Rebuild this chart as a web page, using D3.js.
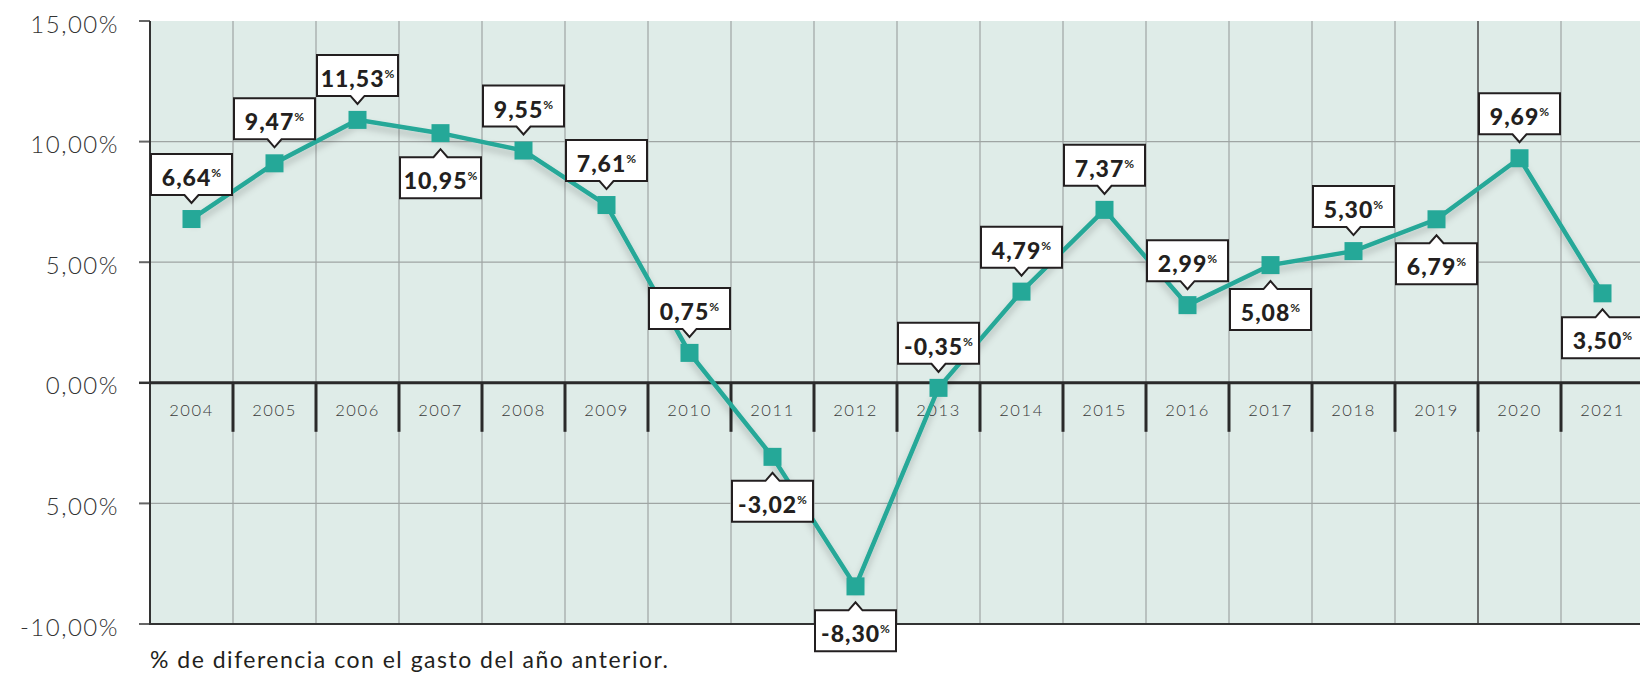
<!DOCTYPE html>
<html>
<head>
<meta charset="utf-8">
<script src="https://cdn.jsdelivr.net/npm/d3@7"></script>
<style>
  html, body { margin: 0; padding: 0; background: #ffffff; }
  svg { display: block; }
</style>
</head>
<body>
<svg id="chart" width="1640" height="675"></svg>
<script>
// ---- data ----
const years = ["2004","2005","2006","2007","2008","2009","2010","2011","2012","2013","2014","2015","2016","2017","2018","2019","2020","2021"];
// plotted marker values
const values = [6.79, 9.10, 10.90, 10.35, 9.63, 7.37, 1.24, -3.07, -8.44, -0.21, 3.78, 7.17, 3.22, 4.88, 5.46, 6.78, 9.31, 3.71];
// printed callout labels
const labels = ["6,64","9,47","11,53","10,95","9,55","7,61","0,75","-3,02","-8,30","-0,35","4,79","7,37","2,99","5,08","5,30","6,79","9,69","3,50"];
const labelSide = ["up","up","up","down","up","up","up","down","down","up","up","up","up","down","up","down","up","down"];
const yTicks = [-10, -5, 0, 5, 10, 15];
const yTickLabels = ["-10,00%", "5,00%", "0,00%", "5,00%", "10,00%", "15,00%"];
const caption = "% de diferencia con el gasto del año anterior.";

(function () {
// ---- layout ----
const svg = d3.select("#chart");
const pLeft = 150, pTop = 21, pBottom = 624, colW = 83;
const pRight = pLeft + colW * years.length;

const x = d3.scaleBand().domain(years).range([pLeft, pRight]).padding(0);
const y = d3.scaleLinear().domain([-10, 15]).range([pBottom, pTop]);

const teal = "#25a898";
const ink = "#231f20";

const defs = svg.append("defs");
const f = defs.append("filter").attr("id", "shadow")
  .attr("x", "-10%").attr("y", "-10%").attr("width", "120%").attr("height", "130%");
f.append("feDropShadow").attr("dx", 0).attr("dy", 5).attr("stdDeviation", 3.5)
  .attr("flood-color", "#000").attr("flood-opacity", 0.22);

// background
svg.append("rect").attr("x", pLeft).attr("y", pTop)
  .attr("width", pRight - pLeft).attr("height", pBottom - pTop)
  .attr("fill", "#dfece8");

// horizontal grid
svg.append("g").selectAll("line").data(yTicks.filter(d => d !== 0 && d !== -10 && d !== 15))
  .join("line")
  .attr("x1", pLeft).attr("x2", pRight)
  .attr("y1", d => y(d)).attr("y2", d => y(d))
  .attr("stroke", "#9fa5a3").attr("stroke-width", 1.2);

// vertical grid (column boundaries)
svg.append("g").selectAll("line").data(years.slice(1))
  .join("line")
  .attr("x1", d => x(d)).attr("x2", d => x(d))
  .attr("y1", pTop).attr("y2", pBottom)
  .attr("stroke", d => d === "2020" ? "#4a4a4a" : "#9fa5a3")
  .attr("stroke-width", d => d === "2020" ? 1.5 : 1.2);

// y axis ticks
svg.append("g").selectAll("line").data(yTicks)
  .join("line")
  .attr("x1", pLeft - 11).attr("x2", pLeft)
  .attr("y1", d => y(d)).attr("y2", d => y(d))
  .attr("stroke", d => d === 0 ? "#333" : "#666")
  .attr("stroke-width", d => d === 0 ? 2.5 : 2);

// left border
svg.append("line").attr("x1", pLeft).attr("x2", pLeft).attr("y1", pTop).attr("y2", pBottom + 1)
  .attr("stroke", "#333").attr("stroke-width", 2);
// bottom border
svg.append("line").attr("x1", pLeft).attr("x2", pRight).attr("y1", pBottom).attr("y2", pBottom)
  .attr("stroke", "#333").attr("stroke-width", 2);
// zero line
svg.append("line").attr("x1", pLeft).attr("x2", pRight).attr("y1", y(0)).attr("y2", y(0))
  .attr("stroke", "#2a2a2a").attr("stroke-width", 3);
// year ticks
svg.append("g").selectAll("line").data(years.slice(1))
  .join("line")
  .attr("x1", d => x(d)).attr("x2", d => x(d))
  .attr("y1", y(0)).attr("y2", y(0) + 49)
  .attr("stroke", "#2a2a2a").attr("stroke-width", 3);

// y labels
svg.append("g").selectAll("text").data(yTicks)
  .join("text")
  .attr("x", 119).attr("y", d => y(d) + 2)
  .attr("text-anchor", "end").attr("dominant-baseline", "central")
  .attr("font-family", "Lato, sans-serif").attr("font-weight", 300)
  .attr("font-size", 24).attr("letter-spacing", 1.5).attr("fill", "#333")
  .text((d, i) => yTickLabels[i]);

// year labels
svg.append("g").selectAll("text").data(years)
  .join("text")
  .attr("x", d => x(d) + x.bandwidth() / 2).attr("y", y(0) + 27)
  .attr("text-anchor", "middle").attr("dominant-baseline", "central")
  .attr("font-family", "Lato, sans-serif").attr("font-weight", 300)
  .attr("font-size", 16.5).attr("letter-spacing", 1.6).attr("fill", "#3a3a3a")
  .text(d => d);

// line
const pts = years.map((yr, i) => [x(yr) + x.bandwidth() / 2, y(values[i])]);
svg.append("path")
  .attr("d", d3.line()(pts))
  .attr("fill", "none").attr("stroke", teal).attr("stroke-width", 4.5)
  .attr("stroke-linejoin", "miter")
  .attr("filter", "url(#shadow)");

// markers
const ms = 18;
svg.append("g").selectAll("rect").data(pts)
  .join("rect")
  .attr("x", d => d[0] - ms / 2).attr("y", d => d[1] - ms / 2)
  .attr("width", ms).attr("height", ms).attr("fill", teal);

// callouts
const bw = 81, bh = 41, ph = 8, pw = 7, gap = 16;
const cg = svg.append("g");
years.forEach((yr, i) => {
  const cx = x(yr) + x.bandwidth() / 2;
  const my = y(values[i]);
  const x0 = cx - bw / 2, x1 = cx + bw / 2;
  let path, tTop, tBot;
  if (labelSide[i] === "up") {
    const tip = my - gap;
    tBot = tip - ph; tTop = tBot - bh;
    path = `M${x0},${tTop}H${x1}V${tBot}H${cx + pw}L${cx},${tip}L${cx - pw},${tBot}H${x0}Z`;
  } else {
    const tip = my + gap;
    tTop = tip + ph; tBot = tTop + bh;
    path = `M${x0},${tTop}H${cx - pw}L${cx},${tip}L${cx + pw},${tTop}H${x1}V${tBot}H${x0}Z`;
  }
  cg.append("path").attr("d", path)
    .attr("fill", "#fff").attr("stroke", ink).attr("stroke-width", 2)
    .attr("stroke-linejoin", "miter");
  const t = cg.append("text")
    .attr("x", cx).attr("y", tBot - 9)
    .attr("text-anchor", "middle")
    .attr("font-family", "Lato, sans-serif").attr("font-weight", 900)
    .attr("fill", ink);
  t.append("tspan").attr("font-size", 23).attr("letter-spacing", 1).text(labels[i]);
  t.append("tspan").attr("font-size", 12).attr("font-weight", 700).attr("dy", -9).text("%");
});

// caption
svg.append("text").attr("x", 150).attr("y", 668)
  .attr("font-family", "Lato, sans-serif").attr("font-weight", 400)
  .attr("font-size", 23).attr("letter-spacing", 1.5).attr("fill", ink)
  .text(caption);
})();
</script>
</body>
</html>
